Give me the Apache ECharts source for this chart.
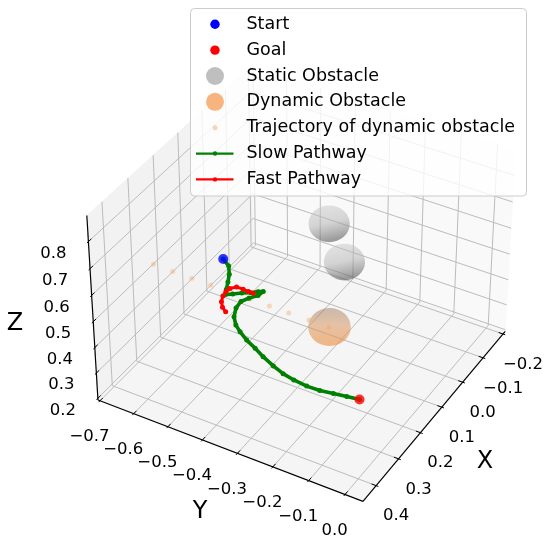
<!DOCTYPE html>
<html>
<head>
<meta charset="utf-8">
<script src="https://cdn.jsdelivr.net/npm/echarts/dist/echarts.min.js"></script>
<style>
html,body{margin:0;padding:0;background:#ffffff;}
#chart{width:550px;height:547px;}
</style>
</head>
<body>
<div id="chart"></div>
<script>
// ---------------- data (3D, data units) ----------------
const xTicks = [-0.2, -0.1, 0.0, 0.1, 0.2, 0.3, 0.4];
const yTicks = [-0.7, -0.6, -0.5, -0.4, -0.3, -0.2, -0.1, 0.0];
const zTicks = [0.2, 0.3, 0.4, 0.5, 0.6, 0.7, 0.8];
const xLim = [-0.211, 0.4575];
const yLim = [-0.706, 0.049];
const zLim = [0.193, 0.895];

const startPoint = [0.124, -0.565, 0.5];
const goalPoint = [0.400, 0.000, 0.5];

const staticX = [-0.110, -0.001];
const staticY = [-0.409, -0.295];
const staticZ = [0.5, 0.5];
const staticR = [0.051, 0.050];

const dynamicX = [0.219];
const dynamicY = [-0.197];
const dynamicZ = [0.5];
const dynamicR = [0.050];

const trajX = [0.218, 0.219, 0.219, 0.219, 0.219, 0.219, 0.220, 0.220, 0.220, 0.220];
const trajY = [-0.705, -0.647, -0.591, -0.536, -0.480, -0.421, -0.366, -0.311, -0.254, -0.198];
const trajZ = [0.5, 0.5, 0.5, 0.5, 0.5, 0.5, 0.5, 0.5, 0.5, 0.5];

const slowX = [0.124, 0.140, 0.165, 0.191, 0.215, 0.233, 0.223, 0.210, 0.199, 0.188, 0.182, 0.200, 0.218, 0.237, 0.262, 0.291, 0.314, 0.329, 0.347, 0.362, 0.378, 0.394, 0.406, 0.413, 0.417, 0.416, 0.410, 0.405, 0.400];
const slowY = [-0.565, -0.538, -0.519, -0.505, -0.493, -0.484, -0.469, -0.452, -0.433, -0.420, -0.409, -0.412, -0.426, -0.436, -0.433, -0.419, -0.398, -0.376, -0.345, -0.311, -0.278, -0.239, -0.204, -0.170, -0.132, -0.097, -0.064, -0.031, 0.000];
const slowZ = [0.5, 0.5, 0.5, 0.5, 0.5, 0.5, 0.5, 0.5, 0.5, 0.5, 0.5, 0.5, 0.5, 0.5, 0.5, 0.5, 0.5, 0.5, 0.5, 0.5, 0.5, 0.5, 0.5, 0.5, 0.5, 0.5, 0.5, 0.5, 0.5];

const fastX = [0.198, 0.198, 0.197, 0.197, 0.209, 0.223, 0.240, 0.259, 0.275, 0.285];
const fastY = [-0.427, -0.441, -0.457, -0.476, -0.487, -0.489, -0.486, -0.477, -0.463, -0.447];
const fastZ = [0.5, 0.5, 0.5, 0.5, 0.5, 0.5, 0.5, 0.5, 0.5, 0.5];

const legendLabels = ['Start', 'Goal', 'Static Obstacle', 'Dynamic Obstacle', 'Trajectory of dynamic obstacle', 'Slow Pathway', 'Fast Pathway'];

// ---------------- view (camera) settings ----------------
const ELEV = 37, AZIM = 30, DIST = 10;
const VIEW_SCALE = 2675, VIEW_CX = 304.9, VIEW_CY = 275.9;
const FONT = '"DejaVu Sans", "Liberation Sans", sans-serif';

const asp0 = [4, 4, 3];
const nrm = Math.hypot(asp0[0], asp0[1], asp0[2]);
const BOX = asp0.map(a => a * 1.8294640721620434 / nrm);
const er = ELEV * Math.PI / 180, ar = AZIM * Math.PI / 180;
const Wv = [Math.cos(er) * Math.cos(ar), Math.cos(er) * Math.sin(ar), Math.sin(er)];
const Uv = [-Math.sin(ar), Math.cos(ar), 0];
const Vv = [-Math.sin(er) * Math.cos(ar), -Math.sin(er) * Math.sin(ar), Math.cos(er)];
const lims = [xLim, yLim, zLim];
const unitScale = [0, 1, 2].map(i => BOX[i] / (lims[i][1] - lims[i][0]));

function dot(a, b) { return a[0] * b[0] + a[1] * b[1] + a[2] * b[2]; }
function boxDelta(x, y, z) {
  const p = [x, y, z];
  return p.map((v, i) => (v - lims[i][0]) * unitScale[i] - BOX[i] / 2);
}
function project(x, y, z) {
  const d = boxDelta(x, y, z);
  const den = DIST - dot(Wv, d);
  return [VIEW_CX + VIEW_SCALE * dot(Uv, d) / den, VIEW_CY - VIEW_SCALE * dot(Vv, d) / den];
}
function sphereSize(x, y, z, r) {
  const d = boxDelta(x, y, z);
  const den = DIST - dot(Wv, d);
  const hw = r * Math.hypot(Uv[0] * unitScale[0], Uv[1] * unitScale[1], Uv[2] * unitScale[2]);
  const hh = r * Math.hypot(Vv[0] * unitScale[0], Vv[1] * unitScale[1], Vv[2] * unitScale[2]);
  return [2 * hw * VIEW_SCALE / den, 2 * hh * VIEW_SCALE / den];
}
function fmt(v) {
  const s = Math.abs(v).toFixed(1);
  return v < -1e-9 ? '\u2212' + s : s;
}

// ---------------- box, grid, axes drawn by a custom series ----------------
function renderBox(params, api) {
  const ch = [];
  const P = (x, y, z) => api.coord(project(x, y, z));
  const [x0, x1] = xLim, [y0, y1] = yLim, [z0, z1] = zLim;
  const poly = (pts, fill) => ch.push({ type: 'polygon', shape: { points: pts }, style: { fill: fill, stroke: fill, lineWidth: 0.6 } });
  const seg = (a, b, stroke, w) => ch.push({ type: 'line', shape: { x1: a[0], y1: a[1], x2: b[0], y2: b[1] }, style: { stroke: stroke, lineWidth: w } });
  const txt = (pos, s, size, dx, dy) => ch.push({
    type: 'text', x: pos[0] + dx, y: pos[1] + dy,
    style: { text: s, x: 0, y: 0, font: size + 'px ' + FONT, fill: '#000000', textAlign: 'center', textVerticalAlign: 'middle', align: 'center', verticalAlign: 'middle' }
  });
  // panes
  poly([P(x1, y0, z0), P(x0, y0, z0), P(x0, y0, z1), P(x1, y0, z1)], '#f2f2f2');
  poly([P(x0, y0, z0), P(x0, y1, z0), P(x0, y1, z1), P(x0, y0, z1)], '#f9f9f9');
  poly([P(x0, y0, z0), P(x1, y0, z0), P(x1, y1, z0), P(x0, y1, z0)], '#f5f5f5');
  // grid lines
  const gc = '#bcbcbc', gw = 1;
  xTicks.forEach(t => { seg(P(t, y0, z0), P(t, y1, z0), gc, gw); seg(P(t, y0, z0), P(t, y0, z1), gc, gw); });
  yTicks.forEach(t => { seg(P(x0, t, z0), P(x1, t, z0), gc, gw); seg(P(x0, t, z0), P(x0, t, z1), gc, gw); });
  zTicks.forEach(t => { seg(P(x0, y0, t), P(x1, y0, t), gc, gw); seg(P(x0, y0, t), P(x0, y1, t), gc, gw); });
  // axis lines
  const ac = '#000000';
  seg(P(x0, y1, z0), P(x1, y1, z0), ac, 1.2);
  seg(P(x1, y0, z0), P(x1, y1, z0), ac, 1.2);
  seg(P(x1, y0, z0), P(x1, y0, z1), ac, 1.2);
  const dx = (x1 - x0) / 12, dy = (y1 - y0) / 12;
  // ticks + labels
  xTicks.forEach(t => {
    seg(P(t, y1 - 0.2 * dy, z0), P(t, y1 + 0.1 * dy, z0), ac, 1);
    txt(P(t, y1, z0), fmt(t), 16.5, 20, 30.5);
  });
  yTicks.forEach(t => {
    seg(P(x1 - 0.2 * dx, t, z0), P(x1 + 0.1 * dx, t, z0), ac, 1);
    txt(P(x1, t, z0), fmt(t), 16.5, -10.5, 36);
  });
  zTicks.forEach(t => {
    seg(P(x1 - 0.2 * dx, y0, t), P(x1 + 0.1 * dx, y0, t), ac, 1);
    txt(P(x1, y0, t), fmt(t), 16.5, -35, 12);
  });
  // axis titles
  txt(P((x0 + x1) / 2, y1, z0), 'X', 24, 48, 48.6);
  txt(P(x1, (y0 + y1) / 2, z0), 'Y', 24, -27.4, 62.2);
  txt(P(x1, y0, (z0 + z1) / 2), 'Z', 24, -77.5, 13.2);
  return { type: 'group', children: ch };
}

// ---------------- build series data ----------------
function pts(X, Y, Z) { return X.map((x, i) => project(x, Y[i], Z[i])); }
function spheres(X, Y, Z, R) {
  return X.map((x, i) => ({ value: project(x, Y[i], Z[i]), symbolSize: sphereSize(x, Y[i], Z[i], R[i]) }));
}

const staticGrad = new echarts.graphic.LinearGradient(0, 0, 0.25, 1, [
  { offset: 0, color: 'rgba(200,200,200,0.55)' },
  { offset: 0.55, color: 'rgba(172,172,172,0.6)' },
  { offset: 1, color: 'rgba(90,90,90,0.72)' }
]);
const dynGrad = new echarts.graphic.LinearGradient(0, 0, 0, 1, [
  { offset: 0, color: 'rgba(150,108,78,0.55)' },
  { offset: 0.45, color: 'rgba(215,148,92,0.66)' },
  { offset: 1, color: 'rgba(242,146,68,0.82)' }
]);

// ---------------- legend (graphic) ----------------
const LX = 190.5, LY = 8.5, LW = 336, LH = 187.5;
const rowY = legendLabels.map((_, i) => 24.3 + i * 25.85);
const mX = 215, tX = 246.5;
const legendEls = [
  { type: 'rect', shape: { x: LX, y: LY, width: LW, height: LH, r: 4 }, style: { fill: 'rgba(255,255,255,0.8)', stroke: '#cccccc', lineWidth: 1 }, z: 100 },
  { type: 'circle', shape: { cx: mX, cy: rowY[0], r: 4.7 }, style: { fill: '#0000ff' }, z: 101 },
  { type: 'circle', shape: { cx: mX, cy: rowY[1], r: 4.7 }, style: { fill: '#ff0000' }, z: 101 },
  { type: 'circle', shape: { cx: mX, cy: rowY[2], r: 9 }, style: { fill: '#bfbfbf' }, z: 101 },
  { type: 'circle', shape: { cx: mX, cy: rowY[3], r: 9 }, style: { fill: '#f8b47e' }, z: 101 },
  { type: 'circle', shape: { cx: mX, cy: rowY[4], r: 2.5 }, style: { fill: '#fad3b3' }, z: 101 },
  { type: 'line', shape: { x1: 196, y1: rowY[5], x2: 233.5, y2: rowY[5] }, style: { stroke: '#008000', lineWidth: 2.3 }, z: 101 },
  { type: 'circle', shape: { cx: mX, cy: rowY[5], r: 2.2 }, style: { fill: '#008000' }, z: 102 },
  { type: 'line', shape: { x1: 196, y1: rowY[6], x2: 233.5, y2: rowY[6] }, style: { stroke: '#ff0000', lineWidth: 2.3 }, z: 101 },
  { type: 'circle', shape: { cx: mX, cy: rowY[6], r: 2.2 }, style: { fill: '#ff0000' }, z: 102 }
];
legendLabels.forEach((s, i) => legendEls.push({
  type: 'text', x: tX, y: rowY[i], z: 103,
  style: { text: s, x: 0, y: 0, font: '17.5px ' + FONT, fill: '#000000', textAlign: 'left', textVerticalAlign: 'middle', align: 'left', verticalAlign: 'middle' }
}));

const chart = echarts.init(document.getElementById('chart'), null, { renderer: 'canvas', width: 550, height: 547 });
chart.setOption({
  animation: false,
  backgroundColor: '#ffffff',
  grid: { left: 0, right: 0, top: 0, bottom: 0 },
  xAxis: { type: 'value', min: 0, max: 550, show: false },
  yAxis: { type: 'value', min: 0, max: 547, inverse: true, show: false },
  series: [
    { type: 'custom', name: 'Axes', renderItem: renderBox, data: [[0, 0]], z: 1, silent: true, clip: false },
    { type: 'scatter', name: 'Static Obstacle', data: spheres(staticX, staticY, staticZ, staticR), symbol: 'circle', itemStyle: { color: staticGrad }, z: 2, silent: true },
    { type: 'scatter', name: 'Dynamic Obstacle', data: spheres(dynamicX, dynamicY, dynamicZ, dynamicR), symbol: 'circle', itemStyle: { color: dynGrad }, z: 2, silent: true },
    { type: 'scatter', name: 'Trajectory of dynamic obstacle', data: pts(trajX, trajY, trajZ), symbol: 'circle', symbolSize: 5, itemStyle: { color: 'rgba(244,160,90,0.45)' }, z: 3, silent: true },
    { type: 'line', name: 'Slow Pathway', data: pts(slowX, slowY, slowZ), symbol: 'circle', symbolSize: 5, showSymbol: true, lineStyle: { color: '#008000', width: 3.6 }, itemStyle: { color: '#008000' }, z: 4, silent: true },
    { type: 'line', name: 'Fast Pathway', data: pts(fastX, fastY, fastZ), symbol: 'circle', symbolSize: 5, showSymbol: true, lineStyle: { color: '#ff0000', width: 3 }, itemStyle: { color: '#ff0000' }, z: 5, silent: true },
    { type: 'scatter', name: 'Start', data: [project(startPoint[0], startPoint[1], startPoint[2])], symbol: 'circle', symbolSize: 10, itemStyle: { color: '#0000ff' }, z: 6, silent: true },
    { type: 'scatter', name: 'Goal', data: [project(goalPoint[0], goalPoint[1], goalPoint[2])], symbol: 'circle', symbolSize: 10, itemStyle: { color: '#ff0000' }, z: 6, silent: true }
  ],
  graphic: legendEls
});
</script>
</body>
</html>
